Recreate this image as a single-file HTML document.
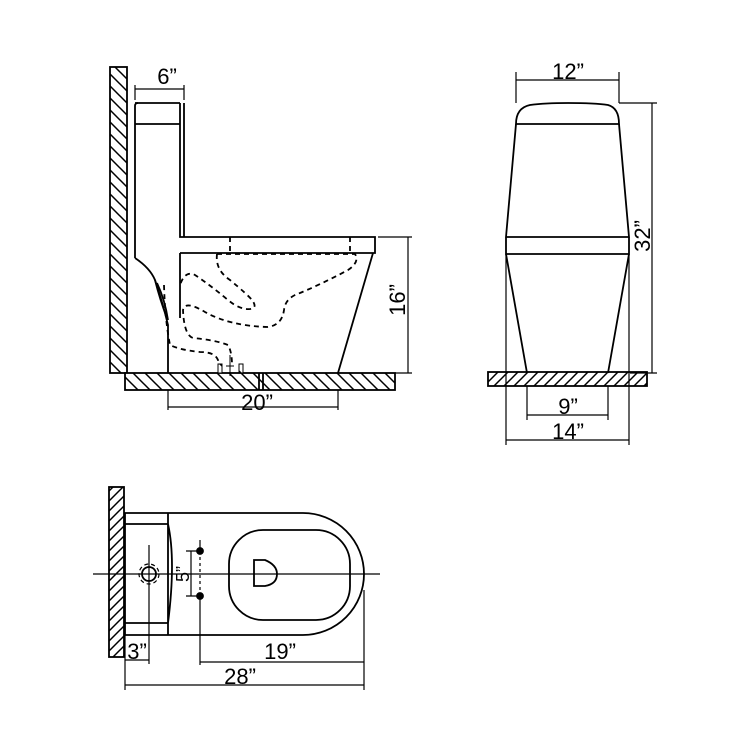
<!DOCTYPE html>
<html><head><style>body{margin:0;background:#fff}svg{display:block}text{font-family:"Liberation Sans",Arial,sans-serif;font-size:22px;fill:#000}</style></head>
<body>
<svg width="750" height="750" viewBox="0 0 750 750" xmlns="http://www.w3.org/2000/svg">
<defs>
<pattern id="h" width="12" height="12" patternUnits="userSpaceOnUse">
<rect width="12" height="12" fill="#fff"/><path d="M-1 -1 L13 13 M-1 11 L1 13 M11 -1 L13 1" stroke="#000" stroke-width="1.5"/>
</pattern>
<pattern id="g" width="10" height="10" patternUnits="userSpaceOnUse">
<rect width="10" height="10" fill="#fff"/><path d="M-1 11 L11 -1 M-1 1 L1 -1 M9 11 L11 9" stroke="#000" stroke-width="1.5"/>
</pattern>
</defs>
<g fill="none" stroke="#000" stroke-width="1.8">
<!-- SIDE VIEW -->
<rect x="110" y="67" width="17" height="306" fill="url(#h)"/>
<rect x="125" y="373" width="270" height="17" fill="url(#h)"/>
<path d="M135 103 H180 M135 124 H180 M184 103 V237"/>
<path d="M135 258 V106 Q135 103 138 103 M180 103 V237 H375 V253 H180 M180 253 V318"/>
<path d="M135 258 Q150 268 155 280 Q162 300 168 325 V373"/>
<path d="M155 280 Q160 300 167 318 M157 283 Q165 300 168 320"/>
<path d="M373 253 L338 373"/>
<path d="M259 373 V390 M263 373 V390"/>
<g stroke-dasharray="5,4">
<path d="M230 237 V253 M350 237 V253"/>
<path d="M217 254 Q215 270 230 280 Q248 295 252 300 Q258 308 250 309 Q240 310 228 300 Q210 285 195 275 Q185 270 180 285"/>
<path d="M217 254 H355 Q360 262 348 270 Q320 285 295 295 Q285 300 284 310 Q282 325 268 327 Q230 326 205 312 Q185 300 183 310 Q184 335 193 338 Q215 340 228 345 Q232 352 232 365"/>
<path d="M164 285 Q165 320 170 345 Q180 350 200 352 Q215 352 218 360 Q220 368 220 373"/>
</g>
<rect x="218" y="364" width="4" height="9" fill="url(#h)" stroke-width="1"/>
<rect x="239" y="364" width="4" height="9" fill="url(#h)" stroke-width="1"/>
<path d="M230 355 V376 M226 366 H234" stroke-width="1"/>
<g stroke-width="1.2">
<path d="M135 85 V100 M184 85 V100 M135 89 H184"/>
<path d="M378 237 H412 M395 373 H412 M408 237 V373"/>
<path d="M168 390 V410 M338 390 V410 M168 407 H338"/>
</g>
<!-- FRONT VIEW -->
<rect x="488" y="372" width="159" height="14" fill="url(#g)"/>
<path d="M516 124 Q516 108 530 105 Q545 103 568 103 Q595 103 608 105 Q619 108 619 124 Z"/>
<path d="M516 124 L506 237 H629 L619 124 M506 237 V254 H629 V237 M506 254 L527 373 M629 254 L608 373"/>
<g stroke-width="1.2">
<path d="M516 72 V103 M619 72 V103 M516 80 H619"/>
<path d="M619 103 H657 M630 373 H657 M652 103 V373"/>
<path d="M527 386 V420 M608 386 V420 M527 415 H608"/>
<path d="M506 254 V445 M629 254 V445 M506 440 H629"/>
</g>
<!-- TOP VIEW -->
<rect x="109" y="487" width="15" height="170" fill="url(#g)"/>
<path d="M125 513 H303 A61 61 0 0 1 303 635 H125 Z"/>
<path d="M168 513 V635 M125 524 H168 Q176 560 168 623 H125"/>
<rect x="229" y="530" width="121" height="90" rx="34"/>
<path d="M254 560 H265 Q277 565 277 574 Q277 584 265 586 H254 Z"/>
<circle cx="149" cy="574" r="7"/>
<circle cx="149" cy="574" r="10" stroke-dasharray="4,3" stroke-width="1.2"/>
<g stroke-width="1.2">
<path d="M93 574 H380"/>
<path d="M149 545 V664"/>
<path d="M186 551 H200 M186 596 H200 M191 551 V596"/>
<path d="M200 540 V551 M200 596 V665"/>
<path d="M200 551 V596" stroke-dasharray="3,3"/>
<path d="M125 635 V690 M364 590 V690 M125 660 H149 M200 662 H364 M125 685 H364"/>
</g>
<circle cx="200" cy="551" r="3" fill="#000"/>
<circle cx="200" cy="596" r="3" fill="#000"/>
</g>
<g text-anchor="middle">
<text x="167" y="84">6”</text>
<text x="257" y="410">20”</text>
<text transform="translate(405,300) rotate(-90)">16”</text>
<text x="568" y="79">12”</text>
<text transform="translate(650,236) rotate(-90)">32”</text>
<text x="568" y="414">9”</text>
<text x="568" y="439">14”</text>
<text x="137" y="659">3”</text>
<text x="280" y="659">19”</text>
<text x="240" y="684">28”</text>
<text transform="translate(189,574) rotate(-90)" style="font-size:18px">5”</text>
</g>
</svg>
</body></html>
